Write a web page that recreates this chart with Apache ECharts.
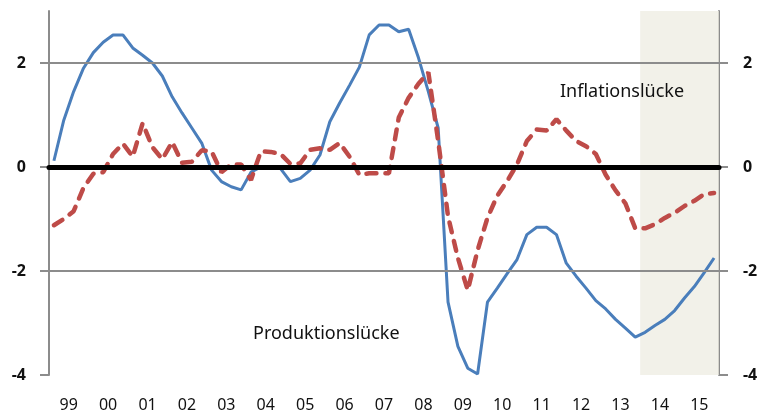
<!DOCTYPE html>
<html>
<head>
<meta charset="utf-8">
<script src="https://cdn.jsdelivr.net/npm/echarts@6/dist/echarts.min.js"></script>
<style>
  html, body { margin: 0; padding: 0; background: #fff; }
  #box { width: 765px; height: 417px; }
</style>
</head>
<body>
<div id="box"></div>
<script>
// year labels (1999 - 2015)
const years = ["99", "00", "01", "02", "03", "04", "05", "06", "07", "08", "09", "10", "11", "12", "13", "14", "15"];

// quarterly values, Q1 1999 .. Q4 2015
const produktion = [
  0.12, 0.9, 1.45, 1.9, 2.2, 2.4, 2.54, 2.54, 2.29, 2.15, 2.0, 1.75,
  1.35, 1.04, 0.75, 0.46, -0.06, -0.28, -0.38, -0.44, -0.1, 0.0, 0.0, -0.03,
  -0.28, -0.22, -0.06, 0.23, 0.87, 1.23, 1.57, 1.92, 2.54, 2.73, 2.73, 2.6,
  2.65, 2.1, 1.45, 0.75, -2.6, -3.45, -3.87, -3.98, -2.6, -2.33, -2.05, -1.78,
  -1.3, -1.16, -1.16, -1.3, -1.85, -2.1, -2.33, -2.57, -2.73, -2.93, -3.1, -3.27,
  -3.18, -3.05, -2.93, -2.76, -2.52, -2.3, -2.03, -1.75
];
const inflation = [
  -1.12, -1.0, -0.85, -0.4, -0.13, -0.1, 0.25, 0.45, 0.2, 0.84, 0.38, 0.15,
  0.48, 0.08, 0.1, 0.32, 0.3, -0.1, 0.05, 0.05, -0.25, 0.3, 0.29, 0.25,
  0.06, 0.07, 0.33, 0.36, 0.33, 0.46, 0.2, -0.15, -0.12, -0.12, -0.12, 0.95,
  1.33, 1.6, 1.82, 0.5, -0.95, -1.75, -2.37, -1.6, -0.98, -0.55, -0.27, 0.05,
  0.5, 0.72, 0.7, 0.92, 0.7, 0.5, 0.4, 0.25, -0.15, -0.45, -0.7, -1.18,
  -1.18, -1.1, -0.98, -0.88, -0.75, -0.65, -0.52, -0.5
];

const startYear = 1999;
const endYear = 2016;
const forecastStart = 2014;

// quarter midpoints on the time axis
function toPoints(arr) {
  return arr.map((v, i) => [startYear + (i + 0.5) / 4, v]);
}

const gray = "#8c8c8c";
const font = "Noto Sans";

let myCharts = echarts.init(document.getElementById("box"));
let option = {
  animation: false,
  grid: { left: 49, right: 46, top: 11, bottom: 42 },
  xAxis: [
    {
      type: "category",
      data: years,
      boundaryGap: true,
      axisLine: { lineStyle: { color: gray, width: 2 } },
      axisTick: { length: 5, lineStyle: { color: gray, width: 2 } },
      axisLabel: { color: "#111", fontSize: 16, fontFamily: font, margin: 22 }
    },
    {
      type: "value",
      min: startYear,
      max: endYear,
      show: false
    }
  ],
  yAxis: [
    {
      type: "value",
      min: -4,
      max: 3,
      interval: 2,
      position: "left",
      axisLine: { show: true, lineStyle: { color: gray, width: 2 } },
      axisTick: { show: true, length: 9, lineStyle: { color: gray, width: 2 } },
      axisLabel: { color: "#111", fontSize: 16, fontFamily: font, fontWeight: "bold", margin: 23, showMaxLabel: false },
      splitLine: { show: false }
    },
    {
      type: "value",
      min: -4,
      max: 3,
      interval: 2,
      position: "right",
      axisLine: { show: true, lineStyle: { color: gray, width: 2 } },
      axisTick: { show: true, length: 9, lineStyle: { color: gray, width: 2 } },
      axisLabel: { color: "#111", fontSize: 16, fontFamily: font, fontWeight: "bold", margin: 24, showMaxLabel: false },
      splitLine: { show: false }
    }
  ],
  series: [
    {
      name: "grid",
      type: "line",
      xAxisIndex: 1,
      data: [],
      z: 1,
      markArea: {
        silent: true,
        itemStyle: { color: "rgba(238,236,226,0.75)" },
        data: [[{ xAxis: forecastStart }, { xAxis: endYear }]]
      },
      markLine: {
        silent: true,
        symbol: "none",
        label: { show: false },
        lineStyle: { color: gray, width: 2, type: "solid" },
        data: [{ yAxis: 2 }, { yAxis: -2 }]
      }
    },
    {
      name: "Produktionslücke",
      type: "line",
      xAxisIndex: 1,
      data: toPoints(produktion),
      showSymbol: false,
      z: 3,
      lineStyle: { color: "#4a7ebb", width: 3 }
    },
    {
      name: "Inflationslücke",
      type: "line",
      xAxisIndex: 1,
      data: toPoints(inflation),
      showSymbol: false,
      z: 4,
      lineStyle: { color: "#be4b48", width: 4.5, type: [10, 9], cap: "round" }
    },
    {
      name: "zero",
      type: "line",
      xAxisIndex: 1,
      data: [],
      z: 5,
      markLine: {
        silent: true,
        symbol: "none",
        label: { show: false },
        lineStyle: { color: "#000", width: 5, type: "solid", cap: "round" },
        data: [{ yAxis: 0 }]
      }
    }
  ],
  graphic: [
    {
      type: "text",
      left: 560,
      top: 83,
      z: 100,
      style: { text: "Inflationslücke", fontSize: 18, fontFamily: font, fill: "#111" }
    },
    {
      type: "text",
      left: 253,
      top: 325,
      z: 100,
      style: { text: "Produktionslücke", fontSize: 18, fontFamily: font, fill: "#111" }
    }
  ]
};
myCharts.setOption(option);
</script>
</body>
</html>
